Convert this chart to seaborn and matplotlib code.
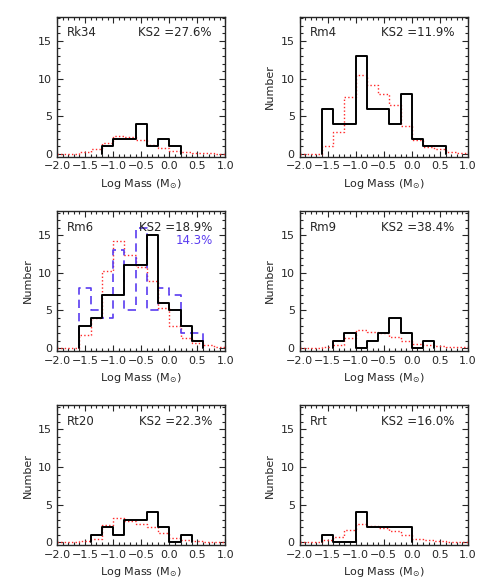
import matplotlib
matplotlib.use("Agg")
import matplotlib.pyplot as plt
import numpy as np
import pandas as pd
import seaborn as sns
from matplotlib.ticker import MultipleLocator

# bin lower edges, width 0.2 in log mass
bin_lo = [-2.0, -1.8, -1.6, -1.4, -1.2, -1.0, -0.8, -0.6, -0.4, -0.2, 0.0, 0.2, 0.4, 0.6, 0.8]
bin_w = 0.2

clusters = ["Rk34", "Rm4", "Rm6", "Rm9", "Rt20", "Rrt"]
ks2 = ["27.6%", "11.9%", "18.9%", "38.4%", "22.3%", "16.0%"]

# observed counts (black)
obs_rk34 = [0, 0, 0, 0, 1, 2, 2, 4, 1, 2, 1, 0, 0, 0, 0]
obs_rm4 = [0, 0, 6, 4, 4, 13, 6, 6, 4, 8, 2, 1, 1, 0, 0]
obs_rm6 = [0, 0, 3, 4, 7, 7, 11, 11, 15, 6, 5, 3, 1, 0, 0]
obs_rm9 = [0, 0, 0, 1, 2, 0, 1, 2, 4, 2, 0, 1, 0, 0, 0]
obs_rt20 = [0, 0, 0, 1, 2, 1, 3, 3, 4, 2, 0, 1, 0, 0, 0]
obs_rrt = [0, 0, 1, 0, 0, 4, 2, 2, 2, 2, 0, 0, 0, 0, 0]

# model (red dotted)
mod_rk34 = [0.02, 0.05, 0.3, 0.7, 1.5, 2.4, 2.2, 1.9, 1.2, 0.8, 0.45, 0.25, 0.15, 0.1, 0.05]
mod_rm4 = [0.02, 0.05, 1.1, 2.9, 7.5, 10.5, 9.2, 8.0, 6.5, 3.7, 1.8, 0.9, 0.6, 0.3, 0.1]
mod_rm6 = [0.02, 0.05, 1.7, 4.0, 10.2, 14.2, 12.4, 10.8, 8.9, 5.3, 3.0, 1.4, 0.7, 0.4, 0.15]
mod_rm9 = [0.02, 0.05, 0.15, 0.45, 1.4, 2.4, 2.2, 2.0, 1.5, 1.0, 0.6, 0.45, 0.25, 0.15, 0.1]
mod_rt20 = [0.02, 0.05, 0.2, 0.4, 2.3, 3.2, 2.8, 2.5, 2.0, 1.3, 0.6, 0.3, 0.15, 0.1, 0.05]
mod_rrt = [0.02, 0.05, 0.3, 0.7, 1.7, 2.5, 2.2, 1.95, 1.5, 1.0, 0.4, 0.25, 0.15, 0.1, 0.05]

# second sample for Rm6 (blue dashed)
alt_rm6 = [0, 0, 8, 5, 4, 13, 5, 16, 5, 8, 7, 2, 2, 0, 0]
alt_ks_rm6 = "14.3%"

observed = [obs_rk34, obs_rm4, obs_rm6, obs_rm9, obs_rt20, obs_rrt]
models = [mod_rk34, mod_rm4, mod_rm6, mod_rm9, mod_rt20, mod_rrt]
show_ylabel = [False, True, True, True, True, True]

sns.set_style("ticks")
plt.rcParams["font.family"] = ["DejaVu Sans"]
plt.rcParams["font.size"] = 8


def step_hist(ax, counts, trim=False, **kw):
    # histogram outline: rises from 0 at the first edge, drops to 0 at the last
    counts = np.asarray(counts, dtype=float)
    lo = np.asarray(bin_lo)
    if trim:
        nz = np.nonzero(counts)[0]
        counts = counts[nz[0]:nz[-1] + 1]
        lo = lo[nz[0]:nz[-1] + 1]
    edge_end = lo[-1] + bin_w
    xs = np.concatenate([[lo[0]], lo, [edge_end, edge_end]])
    ys = np.concatenate([[0.0], counts, [counts[-1], 0.0]])
    d = pd.DataFrame({"x": xs, "y": ys})
    sns.lineplot(data=d, x="x", y="y", ax=ax, estimator=None, sort=False,
                 drawstyle="steps-post", **kw)


fig, axes = plt.subplots(3, 2, figsize=(4.85, 5.81), dpi=100)
fig.subplots_adjust(left=0.1175, right=0.965, top=0.971, bottom=0.062,
                    wspace=0.44, hspace=0.39)

for i, ax in enumerate(axes.flat):
    step_hist(ax, models[i], color="#ff2a2a", linewidth=1.0, linestyle=(0, (1, 1.6)))
    if clusters[i] == "Rm6":
        step_hist(ax, alt_rm6, trim=True, color="#5a3cf0", linewidth=1.2,
                  linestyle=(0, (5, 3)))
    step_hist(ax, observed[i], trim=True, color="black", linewidth=1.4)

    ax.set_xlim(-2.0, 1.0)
    ax.set_ylim(-0.35, 18.2)
    ax.xaxis.set_major_locator(MultipleLocator(0.5))
    ax.xaxis.set_minor_locator(MultipleLocator(0.1))
    ax.yaxis.set_major_locator(MultipleLocator(5))
    ax.yaxis.set_minor_locator(MultipleLocator(1))
    ax.xaxis.set_major_formatter(plt.FuncFormatter(lambda v, p: f"{v:.1f}".replace("-", "\u2212")))
    ax.tick_params(which="both", direction="in", top=True, right=True, width=0.8, labelsize=8)
    ax.tick_params(which="major", length=4)
    ax.tick_params(which="minor", length=2)
    for s in ax.spines.values():
        s.set_linewidth(1.0)

    ax.set_xlabel(r"Log Mass (M$_{\odot}$)", fontsize=8)
    ax.set_ylabel("Number" if show_ylabel[i] else "", fontsize=8)

    ax.text(0.06, 0.885, clusters[i], transform=ax.transAxes, fontsize=8.5,
            ha="left", va="center")
    ax.text(0.92, 0.885, "KS2 =" + ks2[i], transform=ax.transAxes, fontsize=8.5,
            ha="right", va="center")
    if clusters[i] == "Rm6":
        ax.text(0.925, 0.79, alt_ks_rm6, transform=ax.transAxes, fontsize=8.5,
                ha="right", va="center", color="#5a3cf0")

fig.savefig("out.png", dpi=100)
